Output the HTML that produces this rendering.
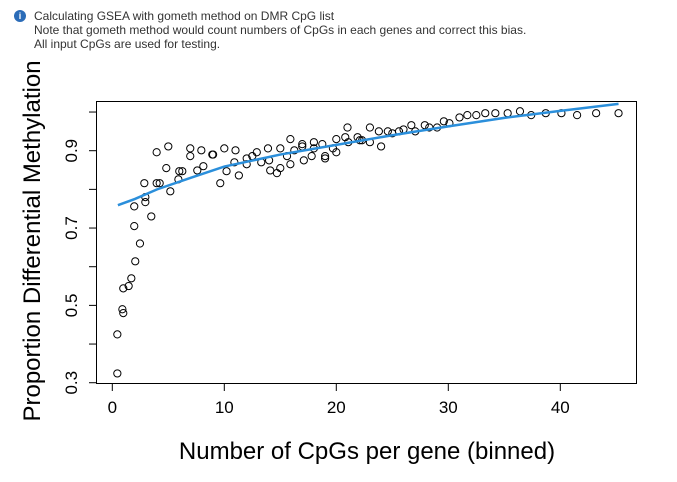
<!DOCTYPE html>
<html><head><meta charset="utf-8"><style>
body{margin:0;background:#fff;width:677px;height:482px;overflow:hidden;font-family:"Liberation Sans",sans-serif}
#note{position:absolute;left:14px;top:9px;font-size:12px;color:#333;line-height:14px}
#icon{position:absolute;left:-0px;top:1px;width:12px;height:12px;border-radius:50%;background:#2b6cb8;color:#fff;font-size:9px;font-weight:bold;text-align:center;line-height:12px}
</style></head><body>
<div id="note">
<div id="icon">i</div>
<div style="padding-left:20px">Calculating GSEA with gometh method on DMR CpG list<br>Note that gometh method would count numbers of CpGs in each genes and correct this bias.<br>All input CpGs are used for testing.</div>
</div>
<svg id="chart" width="677" height="482" style="position:absolute;left:0;top:0"></svg>
<script>
const xs=[0.45,0.45,0.9,0.98,0.98,1.46,1.7,2.05,2.47,1.96,1.96,3.48,2.95,2.95,2.86,3.96,3.96,4.23,5.0,4.82,5.18,5.9,5.98,6.25,6.96,6.96,7.59,7.95,8.13,8.93,9.0,9.64,10.0,10.2,11.0,10.9,11.3,12.0,12.0,12.5,12.9,13.3,13.9,14.0,14.1,14.7,15.0,15.0,15.6,15.9,15.9,16.25,16.96,16.96,17.1,17.8,18.0,18.0,18.75,19.0,19.0,19.7,20.0,20.0,20.8,21.0,21.07,21.9,22.1,22.3,23.0,23.0,23.8,24.0,24.6,25.0,25.6,26.0,26.7,27.05,27.9,28.3,29.0,29.6,30.1,31.0,31.7,32.5,33.3,34.2,35.3,36.4,37.4,38.7,40.1,41.5,43.2,45.2];
const ys=[0.324,0.425,0.49,0.48,0.544,0.55,0.57,0.614,0.66,0.705,0.756,0.73,0.767,0.78,0.816,0.896,0.816,0.816,0.911,0.855,0.795,0.826,0.847,0.847,0.906,0.886,0.849,0.901,0.86,0.89,0.89,0.816,0.906,0.847,0.901,0.87,0.836,0.88,0.865,0.886,0.896,0.87,0.906,0.875,0.849,0.842,0.855,0.906,0.886,0.93,0.865,0.901,0.917,0.911,0.875,0.886,0.922,0.906,0.917,0.886,0.88,0.906,0.896,0.93,0.935,0.96,0.922,0.935,0.927,0.927,0.96,0.922,0.95,0.911,0.95,0.945,0.95,0.955,0.966,0.95,0.966,0.96,0.96,0.976,0.971,0.986,0.992,0.992,0.997,0.997,0.997,1.002,0.992,0.997,0.997,0.992,0.997,0.997];
const fitX=[0.5,2,4,7,10,15,20,25,30,35,40,45.2];
const fitY=[0.759,0.775,0.80,0.83,0.859,0.89,0.915,0.94,0.963,0.985,1.003,1.021];
const xTicks=[0,10,20,30,40];
const yTicks=[0.3,0.4,0.5,0.6,0.7,0.8,0.9,1.0];
const yLabels=[0.3,0.5,0.7,0.9];
const NS="http://www.w3.org/2000/svg";
const svg=document.getElementById('chart');
const X=v=>112.3+v*11.2;
const Y=v=>150.7+(0.9-v)*386.7;
function mk(t,a){const e=document.createElementNS(NS,t);for(const k in a)e.setAttribute(k,a[k]);svg.appendChild(e);return e;}
const box=mk('rect',{x:96.5,y:101.5,width:540,height:282,fill:'none',stroke:'#000','stroke-width':1});


xTicks.forEach(v=>{
 const l=mk('line',{x1:X(v),x2:X(v),y1:383.5,y2:391,stroke:'#000'});
 
 
 const t=mk('text',{x:X(v),y:413,'font-size':17,'text-anchor':'middle'});t.textContent=v;
 
 
});
yTicks.forEach(v=>{
 const l=mk('line',{x1:89,x2:96.5,y1:Y(v),y2:Y(v),stroke:'#000'});
 
 
});
yLabels.forEach(v=>{
 const t=mk('text',{x:0,y:0,'font-size':17,'text-anchor':'middle',transform:`translate(77,${Y(v)}) rotate(-90)`});t.textContent=v.toFixed(1);
 
 
});
xs.forEach((x,i)=>{
 const c=mk('circle',{cx:X(x),cy:Y(ys[i]),r:3.6,fill:'none',stroke:'#000','stroke-width':1});
 
 
});
const p=mk('polyline',{points:fitX.map((x,i)=>X(x)+','+Y(fitY[i])).join(' '),fill:'none',stroke:'#2b8fdb','stroke-width':2.5});


const xt=mk('text',{x:367,y:459,'font-size':24,'text-anchor':'middle'});xt.textContent='Number of CpGs per gene (binned)';


const yt=mk('text',{x:0,y:0,'font-size':24,'text-anchor':'middle',transform:'translate(40,241) rotate(-90)'});yt.textContent='Proportion Differential Methylation';


</script>
</body></html>
